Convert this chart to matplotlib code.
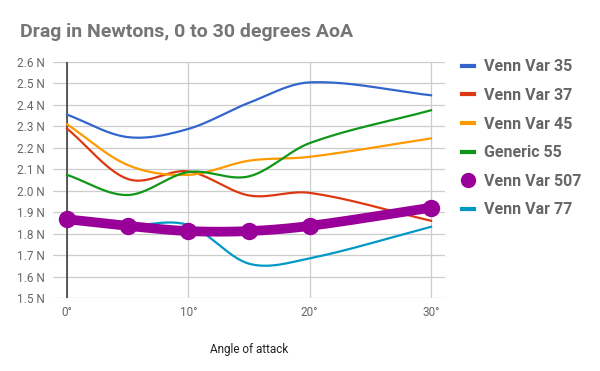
import numpy as np
import matplotlib
matplotlib.use("Agg")
import matplotlib.pyplot as plt
from matplotlib.lines import Line2D

plt.rcParams['font.family'] = ['Roboto', 'DejaVu Sans']

angles = [0, 5, 10, 15, 20, 30]
venn35 = [2.355, 2.25, 2.288, 2.41, 2.505, 2.445]
venn37 = [2.29, 2.055, 2.09, 1.978, 1.99, 1.86]
venn45 = [2.31, 2.12, 2.074, 2.14, 2.158, 2.244]
generic55 = [2.074, 1.98, 2.087, 2.067, 2.222, 2.375]
venn507 = [1.867, 1.836, 1.812, 1.812, 1.836, 1.921]
venn77 = [1.85, 1.837, 1.84, 1.66, 1.685, 1.832]

series_names = ["Venn Var 35", "Venn Var 37", "Venn Var 45", "Generic 55", "Venn Var 507", "Venn Var 77"]
series_values = [venn35, venn37, venn45, generic55, venn507, venn77]
colors = ["#3366cc", "#dc3912", "#ff9900", "#109618", "#990099", "#0099c6"]

ytick_vals = [1.5, 1.6, 1.7, 1.8, 1.9, 2.0, 2.1, 2.2, 2.3, 2.4, 2.5, 2.6]
xtick_vals = [0, 10, 20, 30]


def smooth(x, y, n=40):
    x = np.asarray(x, float)
    y = np.asarray(y, float)
    m = len(x)
    d = np.zeros(m)
    for i in range(m):
        if i == 0:
            d[i] = (y[1] - y[0]) / (x[1] - x[0])
        elif i == m - 1:
            d[i] = (y[-1] - y[-2]) / (x[-1] - x[-2])
        else:
            d[i] = (y[i + 1] - y[i - 1]) / (x[i + 1] - x[i - 1])
    xs, ys = [], []
    for i in range(m - 1):
        h = x[i + 1] - x[i]
        t = np.linspace(0, 1, n)
        h00 = 2 * t**3 - 3 * t**2 + 1
        h10 = t**3 - 2 * t**2 + t
        h01 = -2 * t**3 + 3 * t**2
        h11 = t**3 - t**2
        xs.append(x[i] + t * h)
        ys.append(h00 * y[i] + h10 * h * d[i] + h01 * y[i + 1] + h11 * h * d[i + 1])
    return np.concatenate(xs), np.concatenate(ys)


fig = plt.figure(figsize=(6, 3.71), dpi=100)
ax = fig.add_axes([53 / 600, 1 - 298 / 371, (445 - 53) / 600, (298 - 62) / 371])

for name, vals, c in zip(series_names, series_values, colors):
    sx, sy = smooth(angles, vals)
    if name == "Venn Var 507":
        ax.plot(sx, sy, color=c, lw=7, solid_capstyle="round", zorder=5)
        ax.plot(angles, vals, "o", color=c, ms=11.5, zorder=6)
    else:
        ax.plot(sx, sy, color=c, lw=1.6, zorder=4)

ax.set_xlim(-1.15, 31.15)
ax.set_ylim(1.5, 2.6)
ax.set_yticks(ytick_vals)
ax.set_yticklabels([f"{v:.1f} N" for v in ytick_vals])
ax.set_xticks(xtick_vals)
ax.set_xticklabels([f"{v}°" for v in xtick_vals])
ax.grid(True, color="#cccccc", lw=0.9)
ax.set_axisbelow(True)
for s in ax.spines.values():
    s.set_visible(False)
ax.axvline(0, color="#333333", lw=1.1, zorder=3)
ax.tick_params(length=0, labelsize=8.5, labelcolor="#666666", pad=6)
ax.set_xlabel("Angle of attack", fontsize=8.5, color="#222222", labelpad=17)

fig.text(20 / 600, 1 - 32 / 371, "Drag in Newtons, 0 to 30 degrees AoA", fontsize=14,
         fontweight="bold", color="#757575", va="center", ha="left")

handles = []
for name, c in zip(series_names, colors):
    if name == "Venn Var 507":
        handles.append(Line2D([], [], color=c, marker="o", ms=10, lw=0))
    else:
        handles.append(Line2D([], [], color=c, lw=3))
leg = fig.legend(handles, series_names, loc="upper left", bbox_to_anchor=(448 / 600, 1 - 45 / 371),
                 frameon=False, fontsize=11.5, handlelength=0.75, handletextpad=0.6, labelspacing=0.85)
for t in leg.get_texts():
    t.set_color("#666666")
    t.set_fontweight("bold")

fig.savefig("out.png", dpi=100)
